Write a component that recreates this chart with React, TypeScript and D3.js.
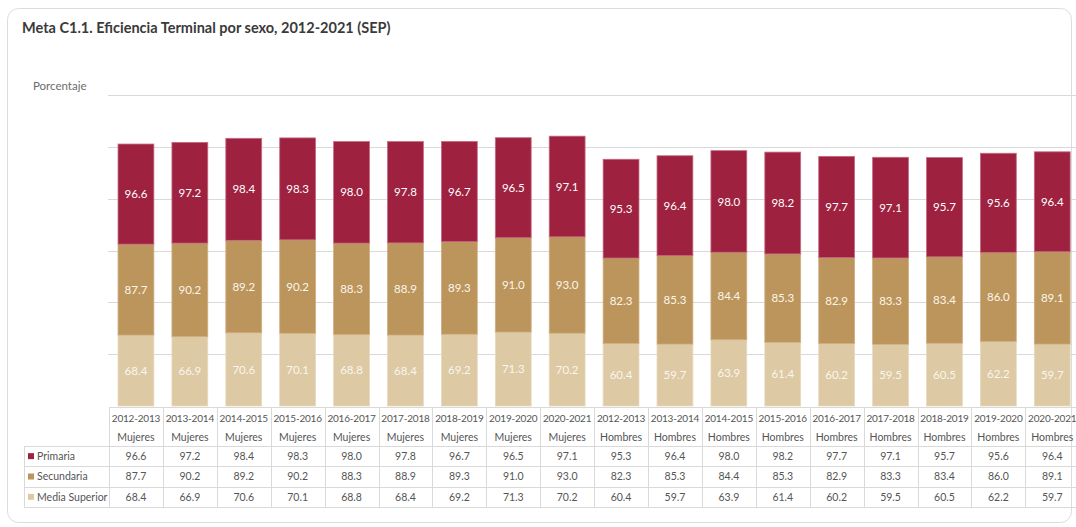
import React from "react";
import * as d3 from "d3";

const years = ["2012-2013","2013-2014","2014-2015","2015-2016","2016-2017","2017-2018","2018-2019","2019-2020","2020-2021","2012-2013","2013-2014","2014-2015","2015-2016","2016-2017","2017-2018","2018-2019","2019-2020","2020-2021"];
const sexes = ["Mujeres","Mujeres","Mujeres","Mujeres","Mujeres","Mujeres","Mujeres","Mujeres","Mujeres","Hombres","Hombres","Hombres","Hombres","Hombres","Hombres","Hombres","Hombres","Hombres"];
const primaria = [96.6,97.2,98.4,98.3,98.0,97.8,96.7,96.5,97.1,95.3,96.4,98.0,98.2,97.7,97.1,95.7,95.6,96.4];
const secundaria = [87.7,90.2,89.2,90.2,88.3,88.9,89.3,91.0,93.0,82.3,85.3,84.4,85.3,82.9,83.3,83.4,86.0,89.1];
const mediaSuperior = [68.4,66.9,70.6,70.1,68.8,68.4,69.2,71.3,70.2,60.4,59.7,63.9,61.4,60.2,59.5,60.5,62.2,59.7];
const yTicks = [50,100,150,200,250,300];

const seriesDefs = [
  { key: "media", name: "Media Superior", values: mediaSuperior, color: "#DDC9A3", stroke: "#e8dabf", text: "#faf6ef" },
  { key: "sec", name: "Secundaria", values: secundaria, color: "#BC955C", stroke: "#cfae7f", text: "#fbf5ea" },
  { key: "prim", name: "Primaria", values: primaria, color: "#9E2140", stroke: "#c46b80", text: "#ffffff" },
];
const tableOrder = ["prim", "sec", "media"];

const FONT = "Lato, 'Open Sans', sans-serif";

export default function App() {
  const W = 1076, H = 527;
  const left = 109, right = 1079.2;
  const bottom = 406, top = 95;
  const keys = years.map((_, i) => String(i));
  const x = d3.scaleBand().domain(keys).range([left, right]).paddingInner(0.335).paddingOuter(0.1675);
  const step = x.step();
  const y = d3.scaleLinear().domain([0, 300]).range([bottom, top]);

  const rows = years.map((_, i) => ({ i: String(i), media: mediaSuperior[i], sec: secundaria[i], prim: primaria[i] }));
  const stacked = d3.stack().keys(["media", "sec", "prim"])(rows as any);

  const headTop = 407, headBot = 446;
  const rowYs = [446, 466.3, 486.7, 507];
  const legendLeft = 24;
  const grid = "#d9d9d9";

  return (
    <svg width={W} height={H} style={{ position: "fixed", left: 0, top: 0, background: "#fff" }} fontFamily={FONT}>
      <rect x={7.5} y={8.5} width={1064} height={514} rx={11} fill="#fff" stroke="#dcdcdc" strokeWidth={1} />
      <text x={22} y={33} fontSize={14.5} fontWeight={700} fill="#3a3a3a">Meta C1.1. Eficiencia Terminal por sexo, 2012-2021 (SEP)</text>
      <text x={33} y={90} fontSize={11.5} fill="#6b6b6b">Porcentaje</text>
      {yTicks.map((t) => (
        <line key={t} x1={108} x2={W} y1={Math.round(y(t)) + 0.5} y2={Math.round(y(t)) + 0.5} stroke={grid} strokeWidth={1} />
      ))}
      {stacked.map((s, si) => {
        const def = seriesDefs[si];
        return (
          <g key={def.key}>
            {s.map((d, i) => {
              const x0 = x(String(i))!;
              const y0 = y(d[1]);
              const h = y(d[0]) - y(d[1]);
              return (
                <g key={i}>
                  <rect x={x0} y={y0} width={x.bandwidth()} height={h} fill={def.color} stroke={def.stroke} strokeWidth={0.8} />
                  <text x={x0 + x.bandwidth() / 2} y={y0 + h / 2} dy="0.36em" textAnchor="middle" fontSize={11.5} fill={def.text}>
                    {def.values[i].toFixed(1)}
                  </text>
                </g>
              );
            })}
          </g>
        );
      })}
      {/* table */}
      <g stroke={grid} strokeWidth={1}>
        <line x1={left} x2={right} y1={headTop + 0.5} y2={headTop + 0.5} />
        {rowYs.map((ry, k) => (
          <line key={k} x1={legendLeft} x2={right} y1={Math.round(ry) + 0.5} y2={Math.round(ry) + 0.5} />
        ))}
        <line x1={legendLeft + 0.5} x2={legendLeft + 0.5} y1={headBot} y2={rowYs[3]} />
        {d3.range(years.length + 1).map((k) => (
          <line key={k} x1={Math.round(left + k * step) + 0.5} x2={Math.round(left + k * step) + 0.5} y1={headTop} y2={rowYs[3]} />
        ))}
      </g>
      {years.map((yr, i) => {
        const cx = left + (i + 0.5) * step;
        return (
          <g key={i} fill="#555" textAnchor="middle">
            <text x={cx} y={422} fontSize={10} letterSpacing={-0.2}>{yr}</text>
            <text x={cx} y={441} fontSize={10.5}>{sexes[i]}</text>
          </g>
        );
      })}
      {tableOrder.map((k, r) => {
        const def = seriesDefs.find((s) => s.key === k)!;
        const cy = (rowYs[r] + rowYs[r + 1]) / 2;
        return (
          <g key={k}>
            <rect x={28} y={cy - 3} width={6} height={6} fill={def.color} />
            <text x={37} y={cy} dy="0.35em" fontSize={10.5} fill="#555">{def.name}</text>
            {def.values.map((v, i) => (
              <text key={i} x={left + (i + 0.5) * step} y={cy} dy="0.35em" fontSize={10.5} fill="#555" textAnchor="middle">
                {v.toFixed(1)}
              </text>
            ))}
          </g>
        );
      })}
    </svg>
  );
}
